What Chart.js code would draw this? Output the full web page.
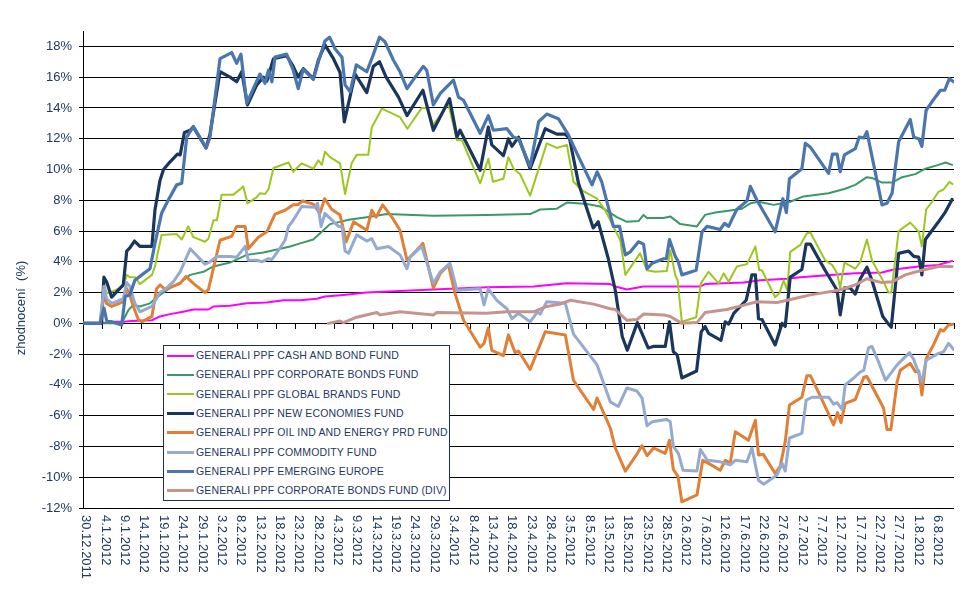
<!DOCTYPE html>
<html><head><meta charset="utf-8">
<script src="https://cdn.jsdelivr.net/npm/chart.js@4"></script>
<style>
html,body{margin:0;padding:0;background:#fff;}
#wrap{position:relative;width:966px;height:594px;}
canvas{display:block;}
#legend{position:absolute;left:163px;top:345px;width:285px;height:154px;border:1px solid #1F2F4F;background:#fff;font-family:"Liberation Sans",Arial,sans-serif;font-size:10.5px;color:#1F3864;}
.row{position:absolute;left:0;width:100%;height:19px;}
.sw{position:absolute;left:3px;width:27px;}
.tx{position:absolute;left:32px;top:0;line-height:19px;white-space:nowrap;letter-spacing:0.15px;}
</style></head>
<body><div id="wrap"><canvas id="c" width="966" height="594"></canvas><div id="legend"></div></div>
<script>
// x tick labels every 5 days starting 30.12.2011 (day 0)
const tickLabels = ["30.12.2011","4.1.2012","9.1.2012","14.1.2012","19.1.2012","24.1.2012","29.1.2012","3.2.2012","8.2.2012","13.2.2012","18.2.2012","23.2.2012","28.2.2012","4.3.2012","9.3.2012","14.3.2012","19.3.2012","24.3.2012","29.3.2012","3.4.2012","8.4.2012","13.4.2012","18.4.2012","23.4.2012","28.4.2012","3.5.2012","8.5.2012","13.5.2012","18.5.2012","23.5.2012","28.5.2012","2.6.2012","7.6.2012","12.6.2012","17.6.2012","22.6.2012","27.6.2012","2.7.2012","7.7.2012","12.7.2012","17.7.2012","22.7.2012","27.7.2012","1.8.2012","6.8.2012"];

const seriesNames = ["GENERALI PPF CASH AND BOND FUND","GENERALI PPF CORPORATE BONDS FUND","GENERALI PPF GLOBAL BRANDS FUND","GENERALI PPF NEW ECONOMIES FUND","GENERALI PPF OIL IND AND ENERGY PRD FUND","GENERALI PPF COMMODITY FUND","GENERALI PPF EMERGING EUROPE","GENERALI PPF CORPORATE BONDS FUND (DIV)"];

const yTitle = "zhodnocení  (%)";

// [day since 30.12.2011, value %]
const cashBond = [[0,0],[4.4,0],[7.8,0.1],[10.4,0.1],[12.6,0.15],[17.8,0.2],[19.9,0.45],[22.5,0.6],[25.9,0.75],[28.5,0.9],[32.4,0.9],[33.7,1.1],[38.0,1.15],[42.3,1.3],[47.5,1.35],[51.8,1.5],[56.1,1.5],[60.4,1.6],[62.5,1.75],[67.3,1.85],[73.3,2.0],[90.5,2.2],[104.3,2.35],[116.4,2.4],[125.0,2.6],[136.2,2.55],[137.5,2.4],[140.5,2.2],[144.8,2.4],[150.0,2.4],[159.5,2.4],[160.7,2.55],[170.6,2.65],[175.0,2.8],[181.9,2.9],[185.3,3.0],[187.9,3.05],[199.5,3.25],[206.4,3.3],[209.4,3.5],[215.9,3.7],[221.0,3.8],[224.5,4.05]];

const corporateBonds = [[0,0],[10.0,0],[11.7,0.85],[13.0,1.2],[14.7,1.1],[17.3,1.3],[19.9,1.85],[22.5,2.3],[25.1,2.65],[27.7,3.15],[31.1,3.35],[33.7,3.7],[38.0,3.95],[38.8,4.05],[42.3,4.45],[46.6,4.6],[50.1,4.8],[53.5,5.0],[56.1,5.2],[59.5,5.45],[62.1,6.05],[63.8,6.45],[69.0,6.75],[73.3,6.9],[78.5,7.1],[90.5,7.0],[104.3,7.05],[115.5,7.1],[118.1,7.4],[122.4,7.45],[125.0,7.85],[130.2,7.75],[133.6,7.6],[137.9,6.9],[140.5,6.6],[143.5,6.65],[144.8,7.05],[145.7,6.85],[150.0,6.85],[151.7,6.95],[154.3,6.45],[158.6,6.3],[160.7,7.05],[163.3,7.2],[166.3,7.3],[170.2,7.45],[172.4,7.8],[174.5,7.9],[178.4,7.7],[182.7,7.9],[186.1,8.25],[192.6,8.45],[196.9,8.75],[199.5,9.0],[202.5,9.5],[203.8,9.45],[206.4,9.15],[209.0,9.15],[211.6,9.5],[215.0,9.7],[217.6,10.05],[221.0,10.3],[222.8,10.45],[224.5,10.3]];

const globalBrands = [[0,0],[4.4,0],[5.4,2.6],[6.1,1.95],[7.8,2.1],[10.4,2.4],[11.3,3.15],[12.1,3.0],[13.4,3.0],[14.7,2.55],[17.8,3.15],[18.6,3.7],[20.3,5.75],[24.2,5.8],[25.5,5.45],[27.2,6.3],[28.5,5.6],[31.5,5.3],[32.4,5.5],[33.7,6.7],[34.6,6.7],[35.8,8.35],[38.8,8.35],[41.4,8.9],[42.5,7.8],[44.9,8.2],[45.7,8.45],[47.0,8.4],[47.9,8.7],[49.2,10.1],[53.1,10.45],[54.3,9.85],[56.5,10.4],[59.5,10.05],[60.8,10.6],[61.7,10.3],[62.5,11.15],[63.8,10.8],[66.4,10.4],[67.7,8.4],[69.4,10.4],[70.7,10.95],[73.7,10.95],[74.6,12.75],[77.2,13.95],[81.9,13.4],[83.8,12.65],[87.5,14.0],[88.8,14.0],[90.5,12.9],[94.4,14.25],[96.6,11.9],[97.9,11.9],[102.6,9.1],[104.7,10.7],[105.9,9.2],[108.6,9.4],[109.9,10.8],[111.2,10.05],[112.9,9.7],[115.5,8.3],[119.8,11.7],[122.4,11.4],[125.0,11.6],[126.7,9.2],[128.9,8.65],[132.8,8.1],[134.9,7.35],[137.5,6.05],[138.8,5.4],[140.1,3.15],[143.9,4.55],[145.7,3.45],[147.8,3.35],[150.8,3.4],[151.7,4.75],[153.0,3.15],[153.6,2.8],[154.7,0.1],[158.4,0.4],[159.6,2.6],[161.6,3.35],[164.2,2.6],[165.5,3.25],[166.8,2.7],[168.9,3.7],[171.5,3.85],[173.7,5.0],[174.7,3.45],[175.4,3.45],[178.8,1.7],[179.9,1.95],[181.0,2.8],[181.9,2.15],[182.7,4.65],[185.3,5.1],[187.0,5.85],[187.9,5.9],[191.7,4.1],[193.5,3.8],[194.8,3.25],[195.6,2.3],[196.7,3.95],[199.5,3.55],[200.8,4.0],[202.5,5.45],[203.8,4.1],[206.6,2.8],[208.1,2.0],[208.8,2.0],[210.7,6.0],[213.7,6.55],[215.9,5.95],[216.7,5.0],[217.8,7.4],[219.3,7.9],[221.0,8.55],[222.3,8.7],[223.8,9.2],[224.6,9.05]];

const newEconomies = [[0,0],[4.8,0],[5.4,3.0],[6.1,2.7],[7.4,1.7],[10.4,2.5],[11.3,4.7],[12.1,4.9],[13.3,5.35],[14.7,5.0],[17.8,5.0],[18.6,7.4],[19.9,9.3],[20.8,10.0],[22.5,10.5],[24.4,11.0],[25.1,10.95],[26.2,12.4],[27.7,12.55],[28.5,12.75],[31.8,11.4],[32.8,12.3],[35.4,16.35],[38.0,16.0],[39.7,15.7],[41.0,16.35],[42.5,14.2],[44.9,15.5],[46.6,16.0],[47.5,15.75],[49.2,17.2],[52.6,17.4],[54.3,16.7],[55.6,16.0],[56.9,16.55],[59.5,15.9],[60.8,17.1],[62.5,18.1],[64.7,17.2],[66.4,16.3],[67.5,13.1],[70.3,16.2],[73.3,15.0],[75.0,16.7],[76.6,17.0],[78.3,16.0],[81.5,14.7],[83.7,13.5],[87.8,15.15],[90.5,12.55],[94.7,14.6],[96.6,12.1],[97.4,12.55],[102.6,9.95],[104.7,12.75],[105.6,11.6],[108.6,10.9],[109.9,12.0],[110.8,11.5],[112.5,12.1],[115.5,10.05],[119.4,12.65],[122.4,12.3],[124.6,12.3],[125.7,12.0],[128.0,9.1],[131.8,6.2],[133.1,6.6],[135.7,4.2],[137.5,2.15],[139.3,-0.85],[140.6,-1.75],[143.2,0.05],[146.0,-1.6],[147.3,-1.5],[150.4,-1.5],[151.5,0.1],[152.5,-1.85],[153.5,-2.05],[154.7,-3.55],[158.5,-3.1],[159.7,-0.55],[160.7,-0.2],[161.6,-0.65],[164.8,-1.1],[165.9,0.1],[166.8,-0.05],[168.1,0.65],[171.3,1.5],[172.8,3.15],[173.7,3.15],[174.5,0.3],[175.4,0.25],[178.8,-1.4],[180.6,0],[181.4,-0.2],[182.7,3.0],[185.7,3.5],[186.8,5.15],[187.9,5.15],[191.7,3.45],[194.8,2.15],[195.6,0.55],[196.7,2.3],[198.2,2.3],[199.5,1.9],[200.8,2.9],[202.5,3.65],[203.8,2.8],[206.6,0.45],[208.1,-0.05],[208.8,-0.25],[210.7,4.55],[213.3,4.7],[214.6,4.35],[215.9,4.3],[216.7,3.15],[217.6,5.45],[221.0,6.6],[222.8,7.25],[224.5,8.05]];

const oilEnergy = [[0,0],[4.4,0],[5.4,1.95],[6.1,1.3],[7.4,1.1],[10.4,1.4],[11.3,2.25],[12.1,1.85],[13.0,1.1],[14.3,0.25],[15.2,0.1],[17.8,0.45],[19.0,2.25],[19.9,2.5],[21.2,2.2],[25.1,2.6],[26.6,3.05],[28.5,2.6],[31.5,2.0],[32.4,2.2],[35.4,5.4],[38.4,5.65],[39.7,6.3],[41.9,6.3],[42.7,4.85],[45.3,5.6],[47.5,5.95],[49.6,7.1],[52.2,7.35],[54.3,7.7],[55.5,7.7],[56.7,7.95],[59.5,7.75],[61.2,7.15],[62.4,8.1],[64.3,7.4],[66.4,7.05],[68.0,5.3],[69.9,6.6],[73.3,6.05],[74.6,7.35],[75.7,6.9],[77.4,7.7],[79.8,6.9],[81.9,6.05],[83.7,4.1],[87.1,5.0],[87.8,5.2],[90.5,2.3],[92.3,3.25],[94.4,3.8],[96.1,1.95],[98.3,0.2],[102.6,-1.55],[103.6,-1.3],[104.7,-0.3],[105.6,-1.75],[108.6,-2.1],[109.9,-0.75],[111.6,-1.9],[112.5,-1.8],[115.5,-3.0],[119.4,-0.55],[124.6,-0.75],[126.7,-3.7],[131.9,-5.6],[132.8,-4.85],[136.2,-6.8],[137.5,-8.1],[140.1,-9.6],[142.7,-8.65],[144.4,-7.95],[145.7,-8.6],[147.4,-8.1],[150.4,-8.45],[151.5,-7.6],[152.5,-9.5],[153.7,-9.95],[154.7,-11.6],[158.6,-11.15],[160.1,-8.9],[161.6,-9.1],[164.6,-9.55],[165.9,-8.9],[167.2,-9.1],[168.5,-7.05],[171.9,-7.6],[173.7,-6.3],[174.5,-8.55],[175.7,-8.5],[178.8,-9.75],[180.1,-9.3],[181.4,-7.7],[182.5,-5.3],[185.7,-4.8],[187.0,-3.4],[187.9,-3.4],[190.5,-4.75],[193.9,-6.6],[194.9,-5.8],[195.8,-6.45],[196.9,-5.2],[199.5,-4.95],[201.7,-3.5],[202.5,-3.45],[206.8,-5.5],[207.7,-6.9],[208.7,-6.9],[210.3,-3.8],[211.1,-3.05],[213.7,-2.6],[215.0,-3.15],[215.9,-3.1],[216.7,-4.65],[217.8,-2.3],[219.7,-1.4],[221.5,-0.4],[222.3,-0.5],[223.6,-0.1],[224.9,-0.05]];

const commodity = [[0,0],[4.4,0],[5.4,2.4],[6.1,1.6],[7.4,1.3],[10.4,1.6],[11.3,2.65],[12.1,2.4],[13.4,1.3],[14.7,0.75],[17.8,1.1],[19.9,2.0],[21.2,2.2],[23.3,2.7],[25.1,3.35],[27.7,4.85],[31.5,3.85],[32.8,4.0],[34.6,4.35],[38.0,4.35],[39.7,4.3],[41.9,5.0],[42.7,4.1],[44.9,4.1],[46.2,4.0],[47.9,4.2],[48.8,4.15],[50.5,4.75],[52.2,5.4],[53.1,6.3],[54.3,6.7],[56.5,7.6],[59.9,7.55],[60.6,7.8],[61.5,6.3],[62.5,7.15],[66.0,6.3],[66.9,6.3],[67.7,4.7],[68.6,4.55],[70.7,5.75],[73.3,5.35],[74.6,5.5],[75.9,4.85],[78.9,5.0],[81.9,4.45],[83.7,3.55],[84.5,4.3],[87.5,5.0],[90.5,2.6],[92.3,3.35],[94.8,3.9],[96.6,2.15],[102.6,2.25],[103.6,1.2],[104.7,2.25],[106.9,1.5],[109.5,0.95],[110.8,0.3],[112.5,0.65],[115.5,0.1],[117.4,0.75],[118.1,0.6],[119.8,1.4],[124.6,1.3],[126.7,-0.7],[132.8,-2.7],[136.2,-5.1],[138.3,-5.4],[140.5,-4.2],[143.1,-4.4],[144.4,-4.85],[145.7,-6.65],[147.0,-6.4],[150.8,-6.25],[151.7,-6.4],[152.5,-8.0],[153.8,-8.45],[155.0,-9.55],[158.6,-9.6],[159.5,-8.2],[161.3,-8.9],[164.6,-9.0],[167.2,-9.2],[168.5,-8.9],[171.5,-9.0],[172.8,-8.1],[174.5,-10.2],[175.8,-10.45],[179.3,-9.85],[180.6,-9.1],[181.4,-9.6],[182.5,-7.45],[185.7,-7.15],[186.8,-5.0],[188.3,-4.8],[192.6,-4.8],[193.9,-5.25],[194.8,-5.15],[196.1,-5.6],[196.9,-4.0],[199.1,-3.55],[200.8,-3.15],[201.7,-3.05],[202.9,-1.6],[203.8,-1.5],[205.5,-2.5],[207.3,-3.7],[210.3,-2.7],[213.5,-1.9],[214.6,-2.35],[216.7,-3.8],[217.8,-2.4],[221.0,-1.95],[222.3,-1.85],[223.6,-1.3],[224.9,-1.7]];

const emergingEurope = [[0,0],[4.4,0],[5.4,1.0],[6.1,0.2],[10.0,-0.1],[10.9,1.75],[12.1,1.85],[13.4,2.8],[15.2,3.15],[17.3,3.55],[18.6,5.2],[20.3,7.15],[22.0,8.0],[24.2,9.0],[25.5,9.1],[26.8,12.1],[28.5,12.8],[31.8,11.4],[32.8,12.1],[35.4,17.2],[38.4,17.6],[39.7,16.9],[40.8,17.5],[42.3,14.3],[44.0,15.25],[45.7,16.2],[47.0,15.6],[47.9,16.45],[48.8,15.7],[49.6,17.3],[52.6,17.5],[54.3,16.45],[55.6,15.25],[56.9,16.5],[59.5,15.85],[60.8,17.0],[62.5,18.35],[63.7,18.6],[65.1,17.85],[66.9,17.3],[67.7,15.5],[69.0,15.05],[70.6,16.8],[73.3,16.35],[74.9,17.4],[76.6,18.6],[78.0,18.3],[80.2,17.1],[81.9,16.35],[83.7,15.25],[85.8,16.0],[87.9,16.7],[88.8,16.45],[90.5,14.2],[92.3,14.95],[95.7,15.8],[97.0,14.7],[98.3,14.5],[102.6,12.35],[104.7,13.5],[106.0,12.55],[109.5,12.65],[111.2,12.1],[112.5,12.0],[115.5,10.2],[117.7,13.1],[119.8,13.6],[122.8,13.3],[125.4,12.25],[127.6,11.05],[131.5,9.0],[132.8,9.85],[134.0,9.2],[137.0,6.3],[138.6,6.3],[140.1,4.45],[141.4,4.65],[143.5,5.3],[144.8,5.15],[145.7,3.55],[147.0,3.9],[150.0,4.2],[150.7,4.2],[151.5,5.45],[153.0,4.35],[153.8,4.0],[154.7,3.15],[158.4,3.45],[159.9,5.95],[161.2,6.3],[164.6,6.1],[165.7,6.5],[166.8,6.3],[167.9,6.9],[168.9,7.4],[171.5,7.95],[172.4,8.9],[174.1,8.0],[178.8,5.95],[180.8,8.1],[181.7,7.2],[182.5,9.4],[185.7,10.05],[186.6,11.7],[187.9,11.45],[192.6,9.75],[193.6,11.0],[194.8,11.0],[195.6,9.85],[196.7,10.95],[199.5,11.35],[200.5,12.1],[201.7,12.05],[202.5,12.45],[206.4,7.7],[207.7,7.8],[209.0,8.45],[210.7,11.8],[213.7,13.25],[214.6,12.1],[215.9,12.0],[216.7,11.5],[217.8,13.85],[219.3,14.4],[221.5,15.15],[222.6,15.15],[223.8,15.9],[224.9,15.7]];

const corporateDiv = [[63.4,0],[66.4,0.15],[67.3,0.05],[70.7,0.4],[75.9,0.7],[76.8,0.55],[81.9,0.75],[90.5,0.55],[91.4,0.7],[104.3,0.65],[109.5,0.75],[116.4,0.75],[119.8,1.1],[123.3,1.25],[125.9,1.5],[131.9,1.25],[136.2,0.95],[137.5,0.9],[140.5,0.2],[143.1,0.25],[144.8,0.6],[150.0,0.55],[151.7,0.45],[154.7,0],[158.6,0.05],[160.7,0.7],[166.3,0.9],[170.2,1.15],[174.1,1.4],[179.3,1.35],[185.3,1.7],[187.9,1.85],[195.2,2.15],[199.5,2.5],[202.5,2.9],[206.4,2.65],[209.0,2.7],[212.4,3.15],[216.7,3.45],[221.0,3.7],[224.5,3.7]];

const seriesData = [cashBond, corporateBonds, globalBrands, newEconomies, oilEnergy, commodity, emergingEurope, corporateDiv];
const seriesColors = ["#FF00FF","#3A9966","#9CC71E","#1B365D","#E07F35","#94AAD0","#4A76AD","#C6938D"];
const seriesWidths = [2, 2, 2, 3.2, 3, 3, 3.2, 3];
const textColor = "#1F3864";
const fontFam = '"Liberation Sans", Arial, sans-serif';

const datasets = seriesData.map((pts, i) => ({
  label: seriesNames[i],
  data: pts.map(p => ({x: p[0], y: p[1]})),
  borderColor: seriesColors[i],
  backgroundColor: seriesColors[i],
  borderWidth: seriesWidths[i],
  pointRadius: 0,
  pointHoverRadius: 0,
  tension: 0,
  fill: false,
  borderJoinStyle: 'round',
  borderCapStyle: 'round',
  order: seriesData.length - i
}));

const customText = {
  id: 'customText',
  afterDraw(chart) {
    const ctx = chart.ctx;
    const xs = chart.scales.x;
    ctx.save();
    ctx.fillStyle = textColor;
    ctx.font = '13px ' + fontFam;
    ctx.textAlign = 'left';
    ctx.textBaseline = 'middle';
    xs.ticks.forEach(t => {
      const label = tickLabels[Math.round(t.value / 5)];
      if (label === undefined) return;
      const px = xs.getPixelForValue(t.value) + 3;
      ctx.save();
      ctx.translate(px, 515);
      ctx.rotate(Math.PI / 2);
      ctx.fillText(label, 0, 0);
      ctx.restore();
    });
    ctx.save();
    ctx.translate(21, 308);
    ctx.rotate(-Math.PI / 2);
    ctx.textAlign = 'center';
    ctx.fillText(yTitle, 0, 0);
    ctx.restore();
    ctx.restore();
  }
};

new Chart(document.getElementById('c'), {
  type: 'line',
  data: { datasets },
  options: {
    responsive: false,
    devicePixelRatio: 1,
    animation: false,
    events: [],
    layout: { padding: { top: 31, bottom: 86, left: 0, right: 12 } },
    plugins: { legend: { display: false }, tooltip: { enabled: false } },
    scales: {
      x: {
        type: 'linear',
        position: { y: 0 },
        min: 0, max: 225,
        ticks: { display: false, stepSize: 5, autoSkip: false },
        grid: { display: true, drawOnChartArea: false, drawTicks: true, tickLength: 5, color: '#000', lineWidth: 1 },
        border: { display: true, color: '#000', width: 1 }
      },
      y: {
        type: 'linear',
        position: 'left',
        min: -12, max: 19,
        afterFit(scale) { scale.width = 83; },
        ticks: {
          stepSize: 2, includeBounds: false, padding: 7,
          color: textColor, font: { family: fontFam, size: 13 },
          callback: v => v + '%'
        },
        grid: { color: '#000', lineWidth: 1, tickLength: 4, drawTicks: true },
        border: { display: true, color: '#000', width: 1 }
      }
    }
  },
  plugins: [customText]
});

// legend
const lg = document.getElementById('legend');
seriesNames.forEach((name, i) => {
  const row = document.createElement('div');
  row.className = 'row';
  row.style.top = (i * 19.3) + 'px';
  const sw = document.createElement('div');
  sw.className = 'sw';
  sw.style.height = seriesWidths[i] + 'px';
  sw.style.top = (9.5 - seriesWidths[i] / 2) + 'px';
  sw.style.background = seriesColors[i];
  const tx = document.createElement('div');
  tx.className = 'tx';
  tx.textContent = name;
  row.appendChild(sw); row.appendChild(tx);
  lg.appendChild(row);
});
</script>
</body></html>
